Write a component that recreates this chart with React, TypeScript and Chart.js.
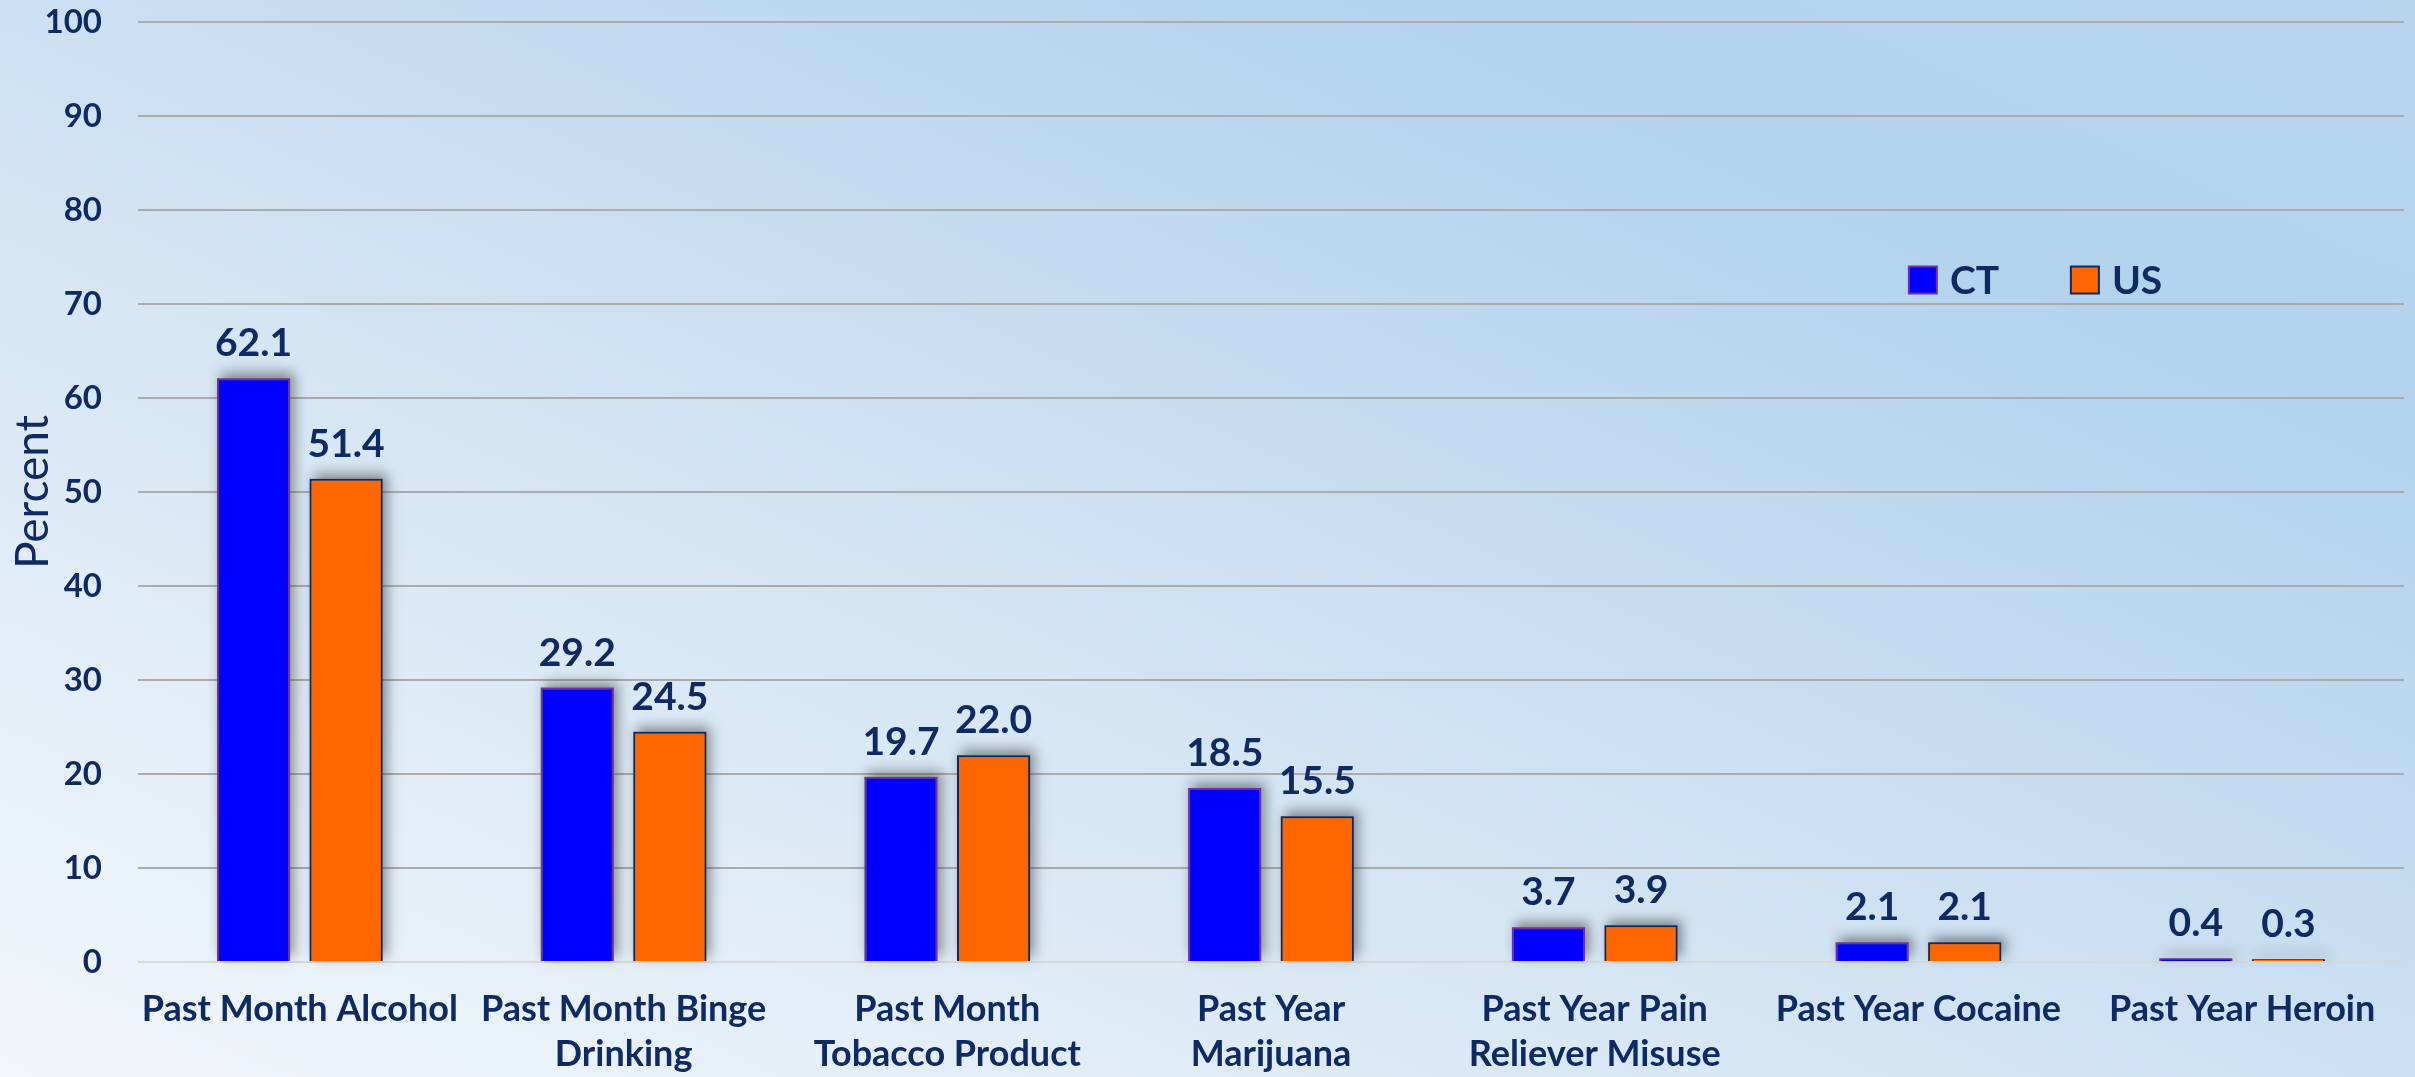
import React, { useEffect, useRef } from "react";
import { Chart, registerables } from "chart.js";

Chart.register(...registerables);

const categories: string[][] = [
  ["Past Month Alcohol"],
  ["Past Month Binge", "Drinking"],
  ["Past Month", "Tobacco Product"],
  ["Past Year", "Marijuana"],
  ["Past Year Pain", "Reliever Misuse"],
  ["Past Year Cocaine"],
  ["Past Year Heroin"],
];
const ctValues = [62.1, 29.2, 19.7, 18.5, 3.7, 2.1, 0.4];
const usValues = [51.4, 24.5, 22.0, 15.5, 3.9, 2.1, 0.3];
const seriesNames = ["CT", "US"];
const yTicks = { min: 0, max: 100, step: 10 };

const NAVY = "#0D2A63";
const FONT = "Lato, 'Open Sans', sans-serif";

const decorPlugin = {
  id: "decor",
  beforeDatasetsDraw(chart: any) {
    const ctx = chart.ctx;
    ctx.save();
    ctx.shadowColor = "rgba(40,40,40,0.5)";
    ctx.shadowBlur = 12;
    ctx.shadowOffsetX = 4;
    ctx.shadowOffsetY = -5;
    ctx.fillStyle = "rgba(120,120,120,1)";
    chart.data.datasets.forEach((_ds: any, i: number) => {
      const meta = chart.getDatasetMeta(i);
      meta.data.forEach((bar: any) => {
        const w = bar.width;
        const top = Math.min(bar.y, bar.base);
        const h = Math.abs(bar.base - bar.y);
        ctx.fillRect(bar.x - w / 2, top, w, Math.max(h, 1));
      });
    });
    ctx.restore();
  },
  afterDatasetsDraw(chart: any) {
    const ctx = chart.ctx;
    ctx.save();
    // data labels
    ctx.fillStyle = NAVY;
    ctx.font = `bold 39px ${FONT}`;
    ctx.textAlign = "center";
    ctx.textBaseline = "alphabetic";
    chart.data.datasets.forEach((ds: any, i: number) => {
      const meta = chart.getDatasetMeta(i);
      meta.data.forEach((bar: any, j: number) => {
        ctx.fillText(Number(ds.data[j]).toFixed(1), bar.x, bar.y - 22);
      });
    });
    // legend
    const area = chart.chartArea;
    const lx = area.left + area.width * 0.7815;
    const ly = area.top + area.height * 0.2745;
    ctx.font = `bold 39px ${FONT}`;
    ctx.textAlign = "left";
    ctx.textBaseline = "middle";
    chart.data.datasets.forEach((ds: any, i: number) => {
      const x = lx + i * 162;
      ctx.fillStyle = ds.backgroundColor;
      ctx.fillRect(x, ly - 13.5, 28, 27);
      ctx.lineWidth = 2;
      ctx.strokeStyle = ds.borderColor;
      ctx.strokeRect(x, ly - 13.5, 28, 27);
      ctx.fillStyle = NAVY;
      ctx.fillText(ds.label, x + 41, ly + 1);
    });
    ctx.restore();
  },
};

export default function App() {
  const canvasRef = useRef<HTMLCanvasElement | null>(null);

  useEffect(() => {
    document.body.style.margin = "0";
    const canvas = canvasRef.current;
    if (!canvas) return;
    const chart = new Chart(canvas, {
      type: "bar",
      data: {
        labels: categories,
        datasets: [
          {
            label: seriesNames[0],
            data: ctValues,
            backgroundColor: "#0000FF",
            borderColor: "#7030A0",
            borderWidth: 2,
            categoryPercentage: 0.572,
            barPercentage: 0.79,
          },
          {
            label: seriesNames[1],
            data: usValues,
            backgroundColor: "#FF6600",
            borderColor: "#0D2A63",
            borderWidth: 2,
            categoryPercentage: 0.572,
            barPercentage: 0.79,
          },
        ],
      },
      options: {
        animation: false,
        responsive: true,
        maintainAspectRatio: false,
        layout: { padding: { left: 0, right: 11, top: 22, bottom: 0 } },
        plugins: {
          legend: { display: false },
          tooltip: { enabled: false },
        },
        scales: {
          x: {
            grid: { display: false },
            border: { display: false },
            ticks: {
              color: NAVY,
              font: { family: FONT, size: 36, weight: "bold", lineHeight: 1.25 },
              padding: 17,
              maxRotation: 0,
              minRotation: 0,
              autoSkip: false,
            },
            afterFit: (scale: any) => {
              scale.height = 115;
              scale.paddingLeft = 0;
              scale.paddingRight = 0;
            },
          },
          y: {
            min: yTicks.min,
            max: yTicks.max,
            border: { display: false },
            grid: {
              drawTicks: false,
              lineWidth: 2,
              color: (c: any) => (c.tick && c.tick.value === 0 ? "#D8D8D8" : "#ABABAB"),
            },
            ticks: {
              stepSize: yTicks.step,
              color: NAVY,
              font: { family: FONT, size: 33, weight: "bold" },
              padding: 36,
            },
            title: {
              display: true,
              text: "Percent",
              color: NAVY,
              font: { family: FONT, size: 46, weight: "normal" },
              padding: { top: 6, bottom: 0 },
            },
            afterFit: (scale: any) => {
              scale.width = 138;
              scale.paddingTop = 0;
              scale.paddingBottom = 0;
            },
          },
        },
      },
      plugins: [decorPlugin],
    });
    return () => chart.destroy();
  }, []);

  return (
    <div
      style={{
        position: "relative",
        width: 2415,
        height: 1077,
        background:
          "linear-gradient(to top right, #F3F7FC 0%, #D4E5F4 40%, #B3D2EC 80%, #B9D5EC 100%)",
      }}
    >
      <canvas ref={canvasRef} />
    </div>
  );
}
